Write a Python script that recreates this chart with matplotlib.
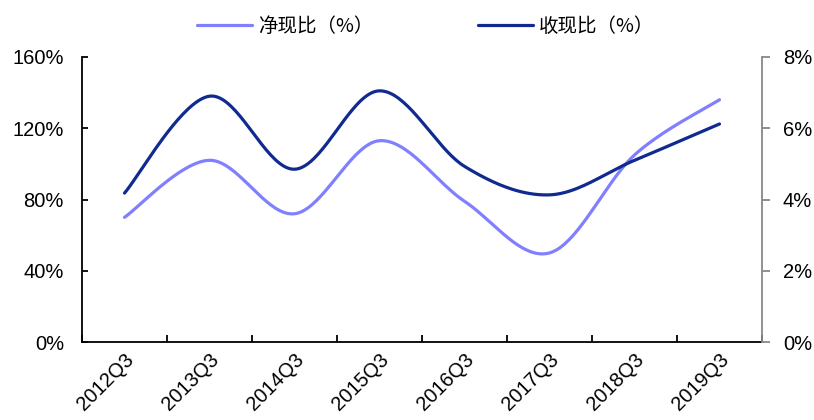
import numpy as np
import matplotlib
matplotlib.use("Agg")
import matplotlib.pyplot as plt

plt.rcParams['font.family'] = ['Liberation Sans', 'Noto Sans CJK SC', 'DejaVu Sans']

quarters = ["2012Q3", "2013Q3", "2014Q3", "2015Q3", "2016Q3", "2017Q3", "2018Q3", "2019Q3"]
net_cash_ratio = [70, 102, 72, 113, 79, 50, 105, 136]          # 净现比, left axis (%)
sales_cash_ratio = [4.18, 6.9, 4.85, 7.05, 4.93, 4.13, 5.1, 6.12]  # 收现比, right axis (%)

left_ticks = [0, 40, 80, 120, 160]
right_ticks = [0, 2, 4, 6, 8]

LIGHT = "#8080FF"
DARK = "#112A8F"


def smooth(xs, ys, n=40):
    """Cubic Bezier smoothing through every point (spreadsheet-style)."""
    pts = np.column_stack([xs, ys]).astype(float)
    ext = np.vstack([pts[0], pts, pts[-1]])
    out = []
    for i in range(len(pts) - 1):
        p0, p1 = ext[i + 1], ext[i + 2]
        c1 = p0 + (ext[i + 2] - ext[i]) / 6.0
        c2 = p1 - (ext[i + 3] - ext[i + 1]) / 6.0
        t = np.linspace(0, 1, n)[:, None]
        seg = ((1 - t) ** 3) * p0 + 3 * ((1 - t) ** 2) * t * c1 + 3 * (1 - t) * t ** 2 * c2 + t ** 3 * p1
        out.append(seg if i == 0 else seg[1:])
    seg = np.vstack(out)
    return seg[:, 0], seg[:, 1]


fig = plt.figure(figsize=(8.14, 4.2), dpi=100)
ax = fig.add_axes([82 / 814, (420 - 342) / 420, (762 - 82) / 814, (342 - 57) / 420])
ax2 = ax.twinx()

x = np.arange(len(quarters))
sx, sy = smooth(x, net_cash_ratio)
l1, = ax.plot(sx, sy, color=LIGHT, lw=2.3, solid_capstyle='round', label="净现比（%）")
sx2, sy2 = smooth(x, sales_cash_ratio)
l2, = ax2.plot(sx2, sy2, color=DARK, lw=2.3, solid_capstyle='round', label="收现比（%）")

ax.set_xlim(-0.5, len(quarters) - 0.5)
ax.set_ylim(0, 160)
ax2.set_ylim(0, 8)

ax.set_yticks(left_ticks)
ax.set_yticklabels([f"{v}%" for v in left_ticks])
ax2.set_yticks(right_ticks)
ax2.set_yticklabels([f"{v}%" for v in right_ticks])

# category boundaries carry the tick marks, centres carry the labels
ax.set_xticks(np.arange(-0.5, len(quarters) + 0.5, 1.0))
ax.set_xticklabels([])
ax.set_xticks(x, minor=True)
ax.set_xticklabels(quarters, minor=True, rotation=45, ha='right', va='top',
                   rotation_mode='anchor')

for s in ["top", "right"]:
    ax.spines[s].set_visible(False)
for s in ["top", "left", "bottom"]:
    ax2.spines[s].set_visible(False)
ax.spines["left"].set_color("black")
ax.spines["bottom"].set_color("black")
ax.spines["left"].set_linewidth(1.3)
ax.spines["bottom"].set_linewidth(1.3)
ax2.spines["right"].set_color("#888888")
ax2.spines["right"].set_linewidth(1.3)

ax.tick_params(axis='y', direction='in', length=4, width=1.3, labelsize=14.5, pad=13)
ax.tick_params(axis='x', which='major', direction='in', length=5, width=1.3)
ax.tick_params(axis='x', which='minor', length=0, labelsize=14.5, pad=6)
ax2.tick_params(axis='y', direction='out', length=6, width=1.3, colors="#888888",
                labelcolor="black", labelsize=14.5, pad=9)

fig.legend(handles=[l1, l2], loc='center', bbox_to_anchor=(0.523, 1 - 26 / 420), ncol=2,
           frameon=False, handlelength=2.83, handletextpad=0.3, columnspacing=5.35,
           prop={'family': ['Noto Sans CJK SC', 'Liberation Sans'], 'size': 14})

fig.savefig("out.png", dpi=100)
